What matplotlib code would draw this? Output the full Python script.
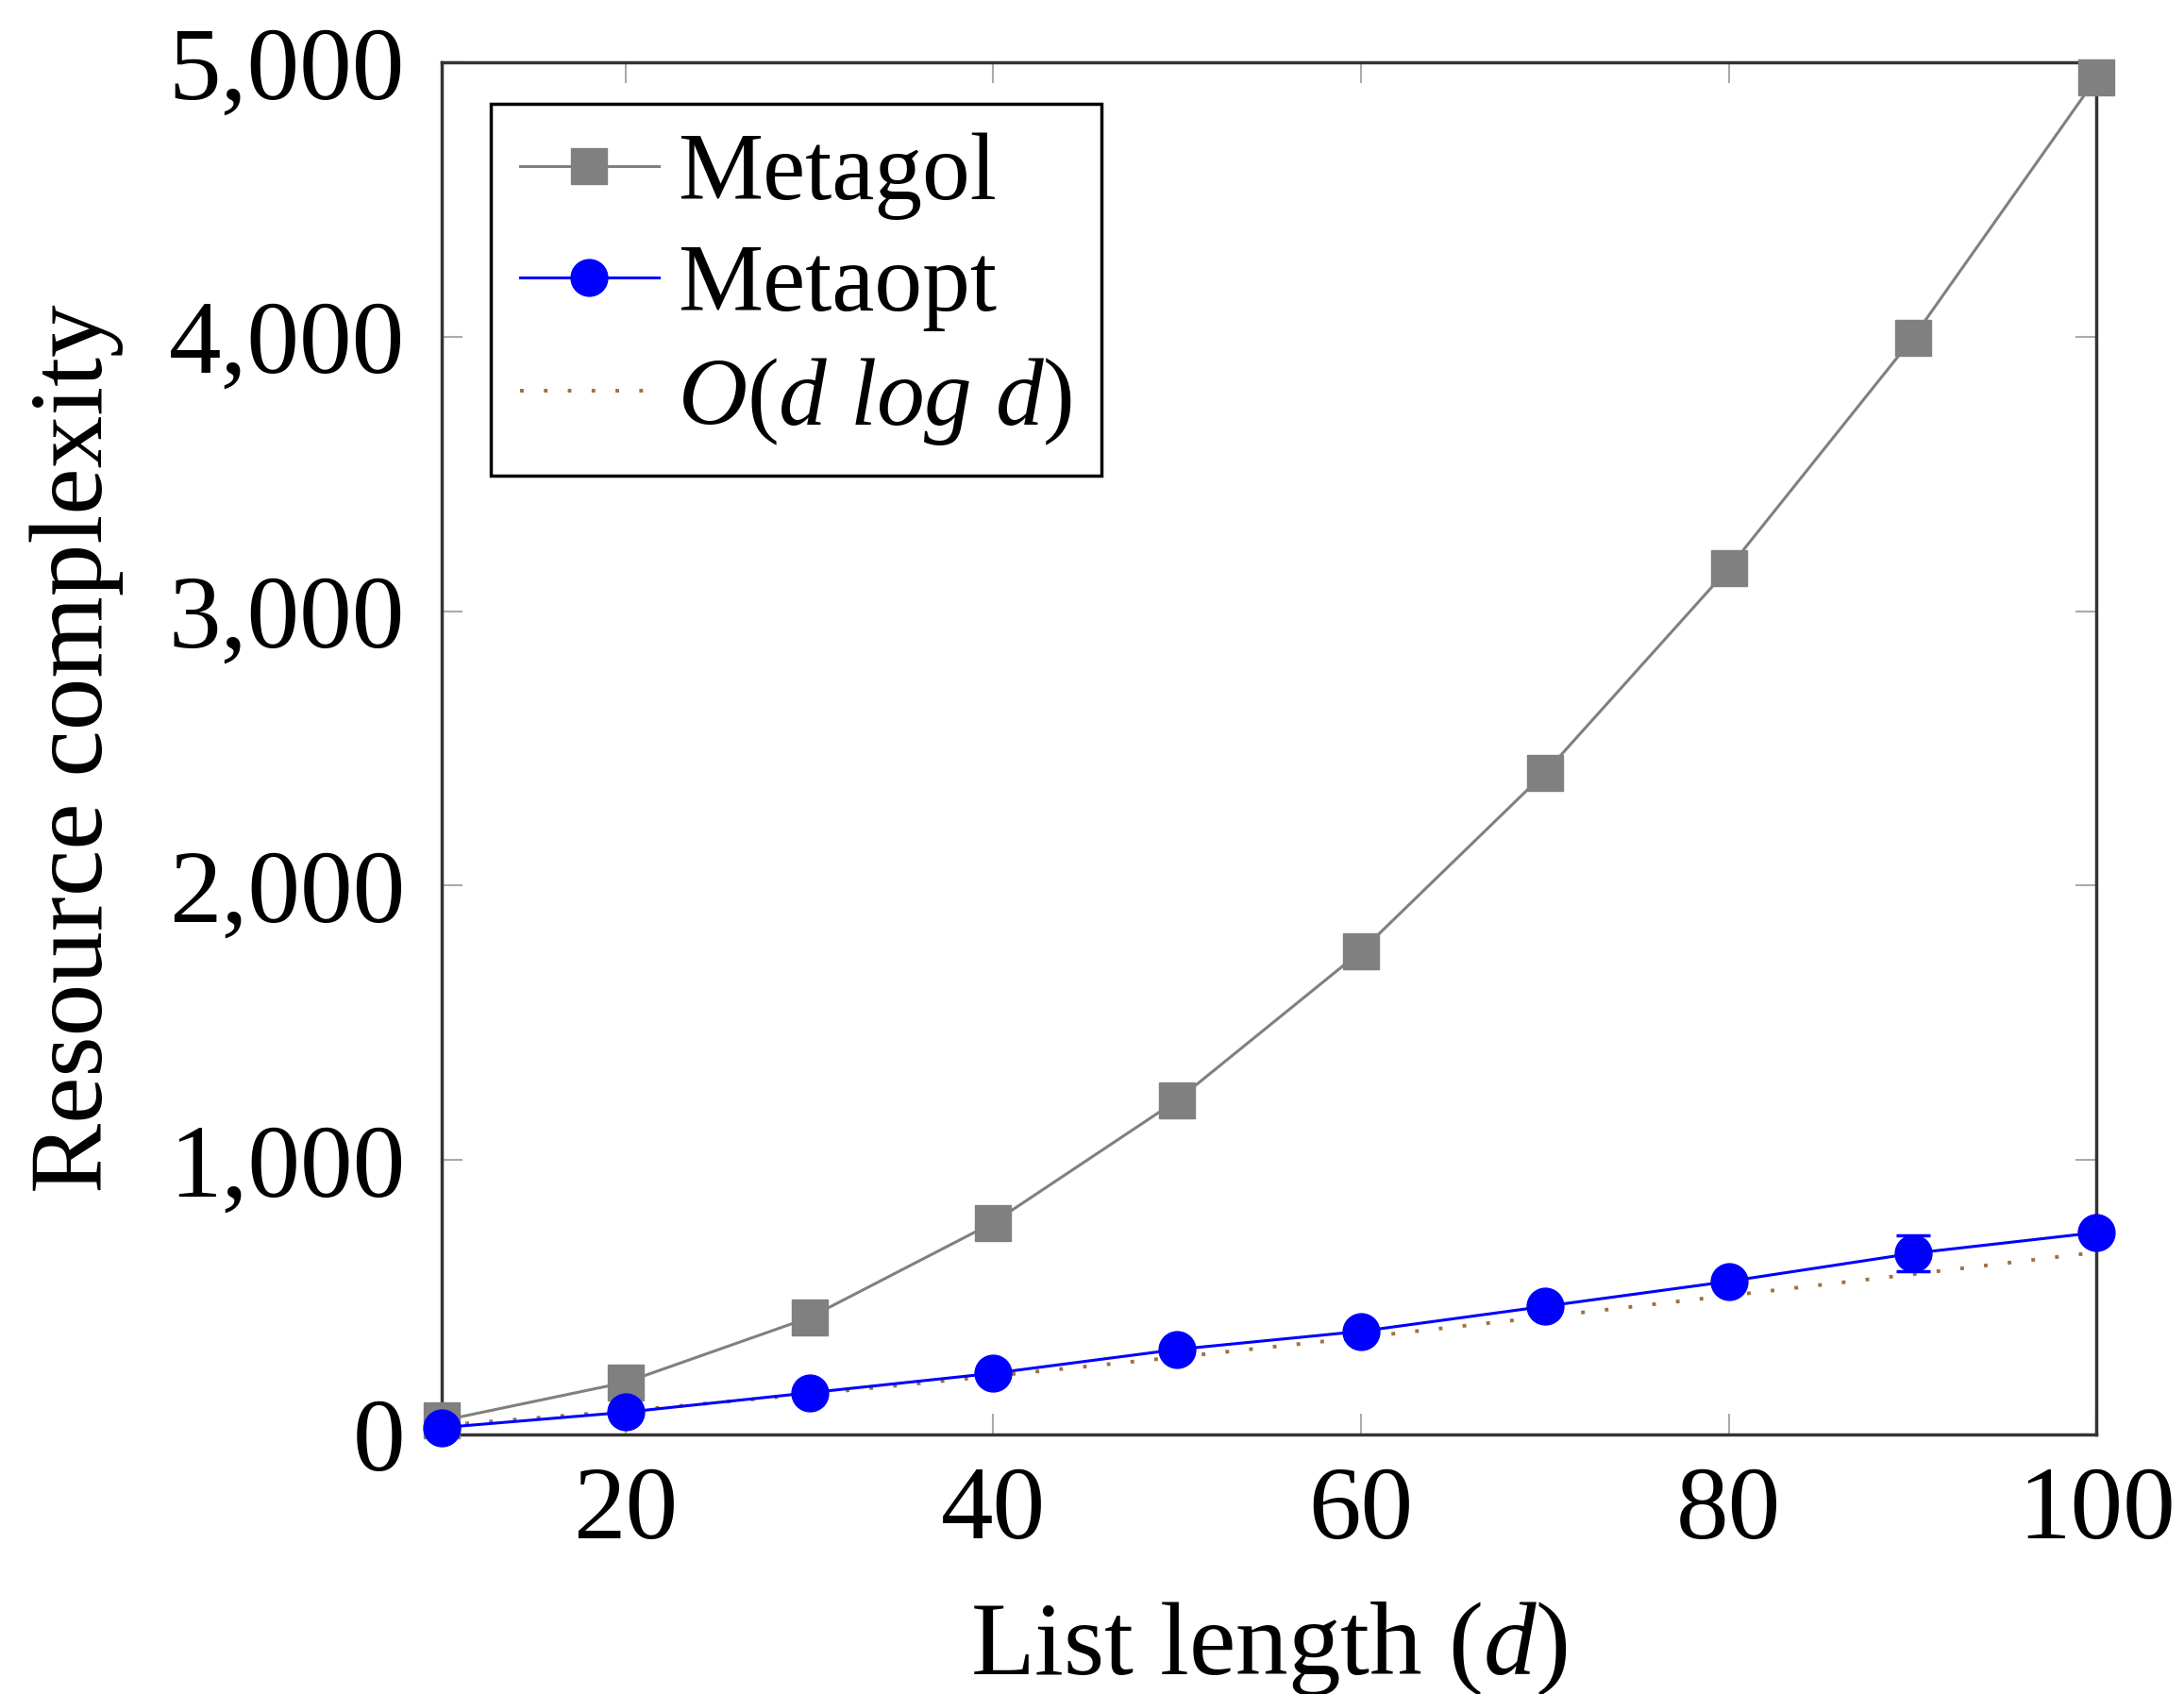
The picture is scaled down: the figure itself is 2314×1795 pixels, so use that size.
import matplotlib
matplotlib.use("Agg")
from matplotlib import pyplot as plt
from matplotlib.ticker import FuncFormatter, MultipleLocator

plt.rc("font", family="Liberation Serif", size=80)
plt.rc("mathtext", fontset="custom", rm="Liberation Serif", it="Liberation Serif:italic")

# data
lengths = [10, 20, 30, 40, 50, 60, 70, 80, 90, 100]
metagol = [50, 190, 426, 772, 1218, 1761, 2411, 3157, 3995, 4944]
metaopt = [25, 81, 152, 223, 310, 376, 467, 558, 660, 736]
metaopt_err = [0, 0, 0, 0, 0, 0, 0, 0, 65, 0]
dlogd = [33, 86, 147, 213, 282, 354, 429, 506, 584, 664]

fig = plt.figure(figsize=(23.14, 17.95), dpi=100)
ax = fig.add_axes([0.2022, 0.1532, 0.7578, 0.8100])

h1, = ax.plot(lengths, metagol, color="gray", marker="s", markersize=28,
              lw=2.2, clip_on=False, zorder=3)
ax.errorbar(lengths, metaopt, yerr=metaopt_err, color="blue", fmt="none",
            capsize=13, capthick=2.5, elinewidth=2.2, zorder=4)
h2, = ax.plot(lengths, metaopt, color="blue", marker="o", markersize=28,
              lw=2.2, clip_on=False, zorder=5)
h3, = ax.plot(lengths, dlogd, color="#a0703f", ls=(0, (1, 5.5)), lw=2.8, zorder=2)

ax.set_xlim(10, 100)
ax.set_ylim(0, 5000)
ax.xaxis.set_major_locator(MultipleLocator(20))
ax.yaxis.set_major_locator(MultipleLocator(1000))
ax.yaxis.set_major_formatter(FuncFormatter(lambda v, p: f"{int(v):,}"))
ax.tick_params(direction="in", length=16, width=1.5, color="#aaaaaa",
               top=True, right=True)
ax.tick_params(axis="y", pad=28)
ax.tick_params(axis="x", pad=24)
for s in ax.spines.values():
    s.set_linewidth(2.5)
    s.set_color("#333333")

ax.set_xlabel("List length ($d$)", labelpad=30)
ax.set_ylabel("Resource complexity", labelpad=34)

leg = ax.legend([h1, h2, h3], ["Metagol", "Metaopt", r"$O(d\ log\ d)$"],
                loc="upper left", bbox_to_anchor=(0.03, 0.97), fontsize=73,
                fancybox=False, framealpha=1, edgecolor="black",
                handlelength=1.45, handletextpad=0.2, borderpad=0.3,
                labelspacing=0.25, borderaxespad=0)
leg.get_frame().set_linewidth(2.5)

fig.savefig("out.png", dpi=100)
